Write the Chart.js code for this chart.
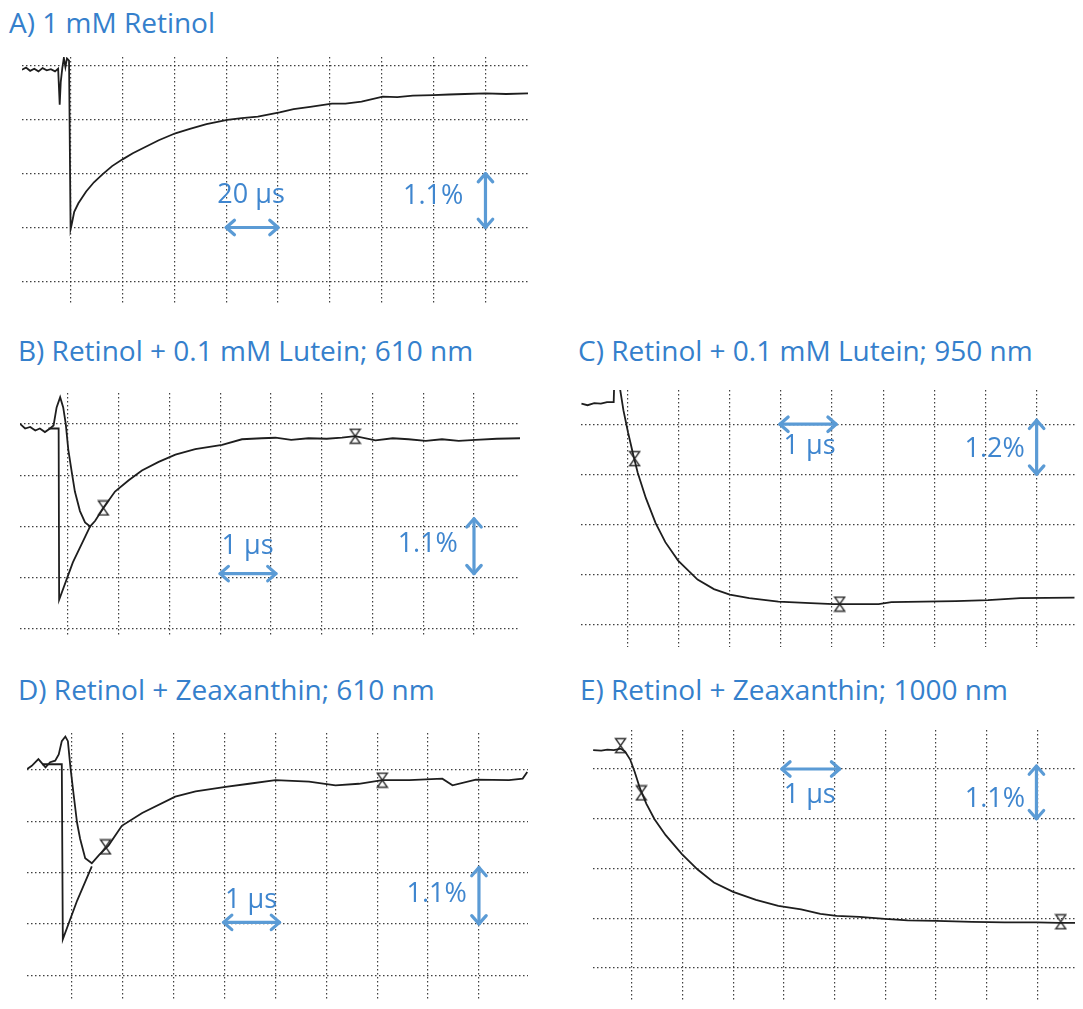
<!DOCTYPE html>
<html>
<head>
<meta charset="utf-8">
<title>Flash photolysis traces</title>
<script src="https://cdn.jsdelivr.net/npm/chart.js@4.4.1/dist/chart.umd.min.js"></script>
<style>
    html, body { margin: 0; padding: 0; background: #fff; }
    body { position: relative; width: 1083px; height: 1009px; overflow: hidden; font-family: "Open Sans", sans-serif; }
    .title { position: absolute; color: #3580cc; font-size: 28px; line-height: 32px; white-space: nowrap; }
    canvas { position: absolute; }
</style>
</head>
<body>
<div class="title" style="left:9px;top:6px">A) 1 mM Retinol</div>
<div class="title" style="left:18px;top:334px">B) Retinol + 0.1 mM Lutein; 610 nm</div>
<div class="title" style="left:578px;top:334px">C) Retinol + 0.1 mM Lutein; 950 nm</div>
<div class="title" style="left:18px;top:673px">D) Retinol + Zeaxanthin; 610 nm</div>
<div class="title" style="left:580px;top:673px">E) Retinol + Zeaxanthin; 1000 nm</div>

<canvas id="chartA" width="506" height="248" style="left:22px;top:57px"></canvas>
<canvas id="chartB" width="516" height="260" style="left:12px;top:385px"></canvas>
<canvas id="chartC" width="510" height="273" style="left:573px;top:382px"></canvas>
<canvas id="chartD" width="517" height="284" style="left:19px;top:725px"></canvas>
<canvas id="chartE" width="498" height="287" style="left:585px;top:722px"></canvas>

<script>
// screen divisions (x: time div, y: signal div, 0 = top graticule line)
const gridX = [0, 1, 2, 3, 4, 5, 6, 7, 8];
const gridY = [0, -1, -2, -3, -4];

// A) 1 mM Retinol
const traceA_x = [-0.94, -0.86, -0.78, -0.70, -0.62, -0.54, -0.46, -0.38, -0.30, -0.24, -0.21, -0.19, -0.16, -0.13, -0.10, -0.07, -0.03, 0.00, 0.02, 0.07, 0.15, 0.30, 0.45, 0.62, 0.80, 1.01, 1.20, 1.43, 1.70, 2.02, 2.30, 2.62, 3.02, 3.30, 3.61, 4.03, 4.30, 4.62, 5.04, 5.30, 5.61, 6.02, 6.30, 6.60, 6.99, 7.30, 7.60, 8.00, 8.40, 8.82];
const traceA_y = [-0.07, -0.03, -0.09, -0.05, -0.10, -0.04, -0.08, -0.06, -0.10, -0.05, -0.72, -0.30, -0.04, 0.15, -0.02, 0.14, 0.10, -3.03, -2.95, -2.71, -2.55, -2.33, -2.16, -2.01, -1.86, -1.73, -1.62, -1.51, -1.38, -1.25, -1.17, -1.08, -1.00, -0.97, -0.94, -0.86, -0.80, -0.76, -0.70, -0.70, -0.66, -0.57, -0.58, -0.55, -0.54, -0.53, -0.52, -0.51, -0.52, -0.51];

// B) Retinol + 0.1 mM Lutein; 610 nm
const traceB_x = [-0.94, -0.84, -0.74, -0.64, -0.55, -0.45, -0.35, -0.28, -0.22, -0.15, -0.09, -0.04, 0.01, 0.08, 0.14, 0.24, 0.34, 0.44, 0.54, 0.70, 0.93, 1.20, 1.46, 1.79, 2.12, 2.51, 3.04, 3.43, 3.82, 4.09, 4.40, 4.74, 5.10, 5.40, 5.66, 6.06, 6.40, 6.71, 7.05, 7.37, 7.70, 8.03, 8.45, 8.92];
const traceB_y = [0.00, -0.09, -0.06, -0.13, -0.09, -0.16, -0.09, -0.03, 0.32, 0.52, 0.32, 0.00, -0.50, -0.95, -1.32, -1.70, -1.92, -2.00, -1.89, -1.64, -1.32, -1.10, -0.91, -0.74, -0.60, -0.49, -0.41, -0.30, -0.28, -0.27, -0.31, -0.28, -0.29, -0.27, -0.24, -0.32, -0.28, -0.30, -0.33, -0.30, -0.33, -0.31, -0.29, -0.28];
const stepB_x = [-0.38, -0.18, -0.17, 0.10, 0.44];
const stepB_y = [-0.09, -0.09, -3.43, -2.70, -2.00];
const markB_x = [0.70, 5.66];
const markB_y = [-1.64, -0.24];

// C) Retinol + 0.1 mM Lutein; 950 nm
const traceC_x = [-0.90, -0.78, -0.65, -0.52, -0.40, -0.27, -0.26, -0.16, -0.08, 0.01, 0.11, 0.20, 0.36, 0.55, 0.74, 0.99, 1.37, 1.69, 2.00, 2.38, 2.95, 3.58, 4.03, 4.53, 4.91, 5.16, 5.79, 6.42, 7.05, 7.68, 8.74];
const traceC_y = [0.41, 0.38, 0.42, 0.41, 0.44, 0.44, 0.80, 0.80, 0.28, -0.16, -0.60, -0.97, -1.48, -1.98, -2.36, -2.73, -3.11, -3.30, -3.41, -3.48, -3.55, -3.58, -3.60, -3.60, -3.60, -3.56, -3.55, -3.54, -3.52, -3.48, -3.47];
const markC_x = [0.14, 4.15];
const markC_y = [-0.69, -3.60];

// D) Retinol + Zeaxanthin; 610 nm
const traceD_x = [-0.88, -0.79, -0.66, -0.52, -0.43, -0.33, -0.26, -0.20, -0.13, -0.08, -0.03, 0.03, 0.10, 0.16, 0.26, 0.39, 0.53, 0.72, 0.98, 1.38, 2.03, 2.43, 3.02, 3.48, 4.00, 4.66, 5.18, 5.64, 6.10, 6.63, 7.28, 7.48, 7.94, 8.59, 8.86, 8.95];
const traceD_y = [0.02, 0.08, 0.21, 0.05, 0.15, 0.18, 0.30, 0.56, 0.65, 0.56, 0.05, -0.46, -1.03, -1.34, -1.72, -1.82, -1.66, -1.47, -1.09, -0.84, -0.52, -0.42, -0.33, -0.27, -0.20, -0.23, -0.30, -0.27, -0.20, -0.20, -0.17, -0.30, -0.19, -0.20, -0.17, -0.04];
const stepD_x = [-0.59, -0.20, -0.18, 0.10, 0.39];
const stepD_y = [0.11, 0.11, -3.30, -2.55, -1.88];
const markD_x = [0.66, 6.10];
const markD_y = [-1.50, -0.20];

// E) Retinol + Zeaxanthin; 1000 nm
const traceE_x = [-0.76, -0.60, -0.48, -0.35, -0.22, -0.13, -0.03, 0.06, 0.16, 0.29, 0.45, 0.67, 0.99, 1.30, 1.62, 2.00, 2.45, 2.89, 3.34, 3.72, 4.04, 4.49, 4.99, 5.44, 6.01, 6.71, 7.35, 7.98, 8.43, 8.74];
const traceE_y = [0.38, 0.37, 0.39, 0.38, 0.41, 0.35, 0.19, -0.06, -0.38, -0.70, -1.01, -1.33, -1.71, -2.02, -2.28, -2.47, -2.63, -2.75, -2.82, -2.91, -2.95, -2.97, -3.01, -3.04, -3.05, -3.07, -3.08, -3.08, -3.09, -3.09];
const markE_x = [-0.22, 0.19, 8.46];
const markE_y = [0.47, -0.48, -3.07];

const ARROW_BLUE = "#5b9bd5";
const TEXT_BLUE = "#3f86cf";

function pairs(xs, ys) {
    return xs.map((x, i) => ({ x, y: ys[i] }));
}

// hourglass cursor marker used by the scope
function hourglassImage() {
    const c = document.createElement("canvas");
    c.width = 13;
    c.height = 17;
    const g = c.getContext("2d");
    g.strokeStyle = "#333";
    g.lineWidth = 1.4;
    g.beginPath();
    g.moveTo(1.5, 1.5); g.lineTo(11.5, 1.5); g.lineTo(6.5, 8.5); g.closePath();
    g.moveTo(6.5, 8.5); g.lineTo(1.5, 15.5); g.lineTo(11.5, 15.5); g.closePath();
    g.stroke();
    return c;
}
const hourglass = hourglassImage();

function drawHead(ctx, x, y, ang) {
    const len = 11, spread = 0.72;
    ctx.beginPath();
    ctx.moveTo(x - len * Math.cos(ang - spread), y - len * Math.sin(ang - spread));
    ctx.lineTo(x, y);
    ctx.lineTo(x - len * Math.cos(ang + spread), y - len * Math.sin(ang + spread));
    ctx.stroke();
}

const scaleBars = {
    id: "scaleBars",
    afterDatasetsDraw(chart, args, opts) {
        const { ctx } = chart;
        const sx = chart.scales.x, sy = chart.scales.y;
        ctx.save();
        ctx.strokeStyle = ARROW_BLUE;
        ctx.lineWidth = 3.2;
        ctx.lineCap = "round";
        ctx.lineJoin = "round";
        (opts.arrows || []).forEach(a => {
            const x1 = sx.getPixelForValue(a.x1), y1 = sy.getPixelForValue(a.y1);
            const x2 = sx.getPixelForValue(a.x2), y2 = sy.getPixelForValue(a.y2);
            ctx.beginPath();
            ctx.moveTo(x1, y1);
            ctx.lineTo(x2, y2);
            ctx.stroke();
            const ang = Math.atan2(y2 - y1, x2 - x1);
            drawHead(ctx, x2, y2, ang);
            drawHead(ctx, x1, y1, ang + Math.PI);
        });
        ctx.fillStyle = TEXT_BLUE;
        ctx.font = '27px "Open Sans", sans-serif';
        ctx.textAlign = "center";
        ctx.textBaseline = "middle";
        (opts.labels || []).forEach(l => {
            ctx.fillText(l.text, sx.getPixelForValue(l.x), sy.getPixelForValue(l.y));
        });
        ctx.restore();
    }
};

function axis(min, max, values) {
    return {
        type: "linear",
        min,
        max,
        afterBuildTicks: scale => {
            scale.ticks = values.map(v => ({ value: v }));
        },
        ticks: { display: false },
        grid: { color: "rgba(30, 30, 30, 0.85)", lineWidth: 1.2, drawTicks: false },
        border: { display: false, dash: [1.5, 2.5] }
    };
}

function makePanel(id, range, traces, marks, notes) {
    const datasets = traces.map(t => ({
        type: "line",
        data: t,
        borderColor: "#1e1e1e",
        borderWidth: 1.8,
        pointRadius: 0,
        tension: 0,
        fill: false
    }));
    if (marks) {
        datasets.push({
            type: "scatter",
            data: marks,
            pointStyle: hourglass,
            pointRadius: 7,
            showLine: false
        });
    }
    new Chart(document.getElementById(id), {
        type: "line",
        data: { datasets },
        options: {
            responsive: false,
            animation: false,
            events: [],
            layout: { padding: 0 },
            plugins: {
                legend: { display: false },
                tooltip: { enabled: false },
                scaleBars: notes
            },
            scales: {
                x: axis(range[0], range[1], gridX),
                y: axis(range[2], range[3], gridY)
            }
        },
        plugins: [scaleBars]
    });
}

makePanel("chartA", [-0.937, 8.82, -4.44, 0.167],
    [pairs(traceA_x, traceA_y)], null,
    {
        arrows: [{ x1: 3, y1: -3, x2: 4, y2: -3 }, { x1: 8, y1: -2, x2: 8, y2: -3 }],
        labels: [{ text: "20 µs", x: 3.48, y: -2.4 }, { text: "1.1%", x: 6.99, y: -2.42 }]
    });

makePanel("chartB", [-0.941, 8.906, -4.155, 0.602],
    [pairs(traceB_x, traceB_y), pairs(stepB_x, stepB_y)], pairs(markB_x, markB_y),
    {
        arrows: [{ x1: 3, y1: -2.92, x2: 4.1, y2: -2.92 }, { x1: 8, y1: -1.85, x2: 8, y2: -2.92 }],
        labels: [{ text: "1 µs", x: 3.54, y: -2.38 }, { text: "1.1%", x: 7.09, y: -2.34 }]
    });

makePanel("chartC", [-0.909, 8.75, -4.458, 0.684],
    [pairs(traceC_x, traceC_y)], pairs(markC_x, markC_y),
    {
        arrows: [{ x1: 2.98, y1: 0, x2: 4.08, y2: 0 }, { x1: 8, y1: 0.08, x2: 8, y2: -1.0 }],
        labels: [{ text: "1 µs", x: 3.56, y: -0.45 }, { text: "1.2%", x: 7.18, y: -0.5 }]
    });

makePanel("chartD", [-0.884, 8.964, -4.502, 0.719],
    [pairs(traceD_x, traceD_y), pairs(stepD_x, stepD_y)], pairs(markD_x, markD_y),
    {
        arrows: [{ x1: 2.98, y1: -2.97, x2: 4.08, y2: -2.97 }, { x1: 8, y1: -1.9, x2: 8, y2: -3.0 }],
        labels: [{ text: "1 µs", x: 3.52, y: -2.55 }, { text: "1.1%", x: 7.17, y: -2.42 }]
    });

makePanel("chartE", [-0.763, 8.74, -4.662, 0.784],
    [pairs(traceE_x, traceE_y)], pairs(markE_x, markE_y),
    {
        arrows: [{ x1: 2.96, y1: 0, x2: 4.1, y2: 0 }, { x1: 7.98, y1: 0.06, x2: 7.98, y2: -1.0 }],
        labels: [{ text: "1 µs", x: 3.51, y: -0.53 }, { text: "1.1%", x: 7.16, y: -0.6 }]
    });
</script>
</body>
</html>
